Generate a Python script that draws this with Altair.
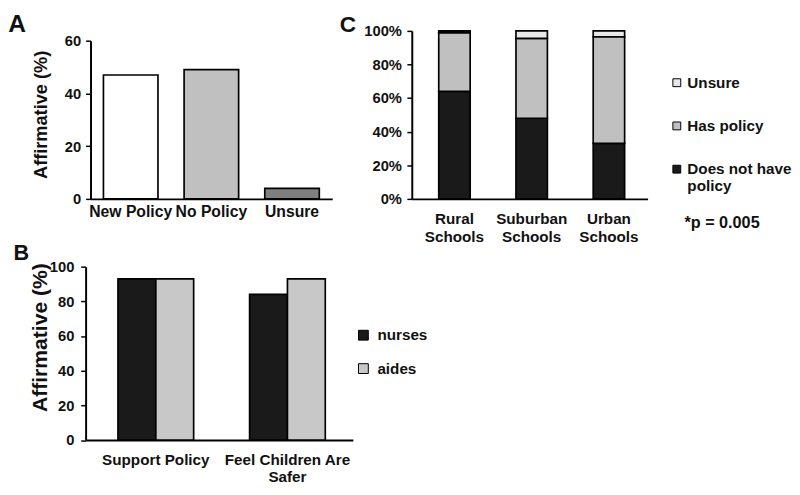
import altair as alt
import pandas as pd

FONT = "Liberation Sans"
INK = "#111111"

# Panel A
a_categories = ["New Policy", "No Policy", "Unsure"]
a_values = [47, 49, 4]
a_colors = ["#ffffff", "#c0c0c0", "#7f7f7f"]

# Panel B
b_categories = ["Support Policy", "Feel Children Are Safer"]
b_groups = ["nurses", "aides"]
b_nurses = [93, 84]
b_aides = [93, 93]
b_colors = ["#1a1a1a", "#c8c8c8"]

# Panel C
c_schools = ["Rural Schools", "Suburban Schools", "Urban Schools"]
c_series = ["Unsure", "Has policy", "Does not have policy"]
c_unsure = [1, 4.5, 3.5]
c_has = [35, 47.5, 63.5]
c_not = [64, 48, 33]
c_colors = ["#e8e8e8", "#c0c0c0", "#1a1a1a"]
c_note = "*p = 0.005"

# ---------- A ----------
dfa = pd.DataFrame({"cat": a_categories, "val": a_values})
a_bars = alt.Chart(dfa).mark_bar(stroke="black", strokeWidth=1.7).encode(
    x=alt.X("cat:N", sort=a_categories,
            scale=alt.Scale(paddingInner=0.324, paddingOuter=0.16),
            axis=alt.Axis(title=None, labelAngle=0, ticks=False, tickSize=0,
                          labelFontSize=16, labelPadding=5)),
    y=alt.Y("val:Q", scale=alt.Scale(domain=[0, 60], range=[171, 10], nice=False),
            axis=alt.Axis(values=[0, 20, 40, 60], labelPadding=5,
                          title="Affirmative (%)", titleFontSize=18.5,
                          titleX=-50.5, titleY=85, titleAngle=270,
                          titleAlign="center", titleBaseline="middle")),
    color=alt.Color("cat:N", scale=alt.Scale(domain=a_categories, range=a_colors), legend=None),
)
a_letter = alt.Chart(pd.DataFrame({"t": ["A"]})).mark_text(
    fontSize=25, fontWeight="bold", font=FONT, color=INK, align="left", baseline="alphabetic"
).encode(text="t:N", x=alt.value(-83.7), y=alt.value(1.5))
A = alt.layer(a_bars, a_letter).properties(width=246, height=171)

# ---------- C ----------
rows = []
for s, u, h, n in zip(c_schools, c_unsure, c_has, c_not):
    rows.append({"school": s, "series": "Does not have policy", "val": n, "ord": 0})
    rows.append({"school": s, "series": "Has policy", "val": h, "ord": 1})
    rows.append({"school": s, "series": "Unsure", "val": u, "ord": 2})
dfc = pd.DataFrame(rows)
c_bars = alt.Chart(dfc).mark_bar(stroke="black", strokeWidth=1.7).encode(
    x=alt.X("school:N", sort=c_schools,
            scale=alt.Scale(paddingInner=0.593, paddingOuter=0.323, align=0.54),
            axis=alt.Axis(title=None, labelAngle=0, ticks=False, tickSize=0,
                          labelFontSize=15.5, labelPadding=13, labelLineHeight=18,
                          labelExpr="split(datum.label, ' ')")),
    y=alt.Y("val:Q", stack="zero", scale=alt.Scale(domain=[0, 100], nice=False),
            axis=alt.Axis(values=[0, 20, 40, 60, 80, 100], labelPadding=5.5,
                          labelExpr="datum.value + '%'", title=None)),
    color=alt.Color("series:N", scale=alt.Scale(domain=c_series, range=c_colors),
                    legend=alt.Legend(title=None, orient="none", legendX=262, legendY=45,
                                      symbolType="square", symbolSize=64,
                                      symbolStrokeColor="black", symbolStrokeWidth=1,
                                      labelFontSize=15.5, labelFont=FONT, labelFontWeight="bold",
                                      labelColor=INK, rowPadding=27, labelOffset=3, padding=0,
                                      labelExpr="datum.label == 'Does not have policy' ? ['Does not have', 'policy'] : datum.label")),
    order=alt.Order("ord:Q", sort="ascending"),
)
c_letter = alt.Chart(pd.DataFrame({"t": ["C"]})).mark_text(
    fontSize=23, fontWeight="bold", font=FONT, color=INK, align="left", baseline="alphabetic"
).encode(text="t:N", x=alt.value(-73.3), y=alt.value(1.5))
c_text = alt.Chart(pd.DataFrame({"t": [c_note]})).mark_text(
    fontSize=16.5, fontWeight="bold", font=FONT, color=INK, align="left", baseline="middle"
).encode(text="t:N", x=alt.value(277.5), y=alt.value(195.5))
C = alt.layer(c_bars, c_letter, c_text).properties(width=240, height=171)

# ---------- B ----------
dfb = pd.DataFrame({
    "cat": b_categories * 2,
    "grp": ["nurses"] * 2 + ["aides"] * 2,
    "val": b_nurses + b_aides,
})
b_bars = alt.Chart(dfb).mark_bar(stroke="black", strokeWidth=1.7).encode(
    x=alt.X("cat:N", sort=b_categories,
            scale=alt.Scale(range=[-5, 267], paddingInner=0.425, paddingOuter=0.2276, align=0.54),
            axis=alt.Axis(title=None, labelAngle=0, ticks=False, tickSize=0,
                          labelFontSize=15.5, labelPadding=13, labelLineHeight=17,
                          labelExpr="datum.label == 'Feel Children Are Safer' ? ['Feel Children Are', 'Safer'] : datum.label")),
    xOffset=alt.XOffset("grp:N", sort=b_groups),
    y=alt.Y("val:Q", scale=alt.Scale(domain=[0, 100], nice=False),
            axis=alt.Axis(values=[0, 20, 40, 60, 80, 100], labelPadding=7, offset=5,
                          title="Affirmative (%)", titleFontSize=21.5,
                          titleX=-45.5, titleY=71.7, titleAngle=270,
                          titleAlign="center", titleBaseline="middle")),
    color=alt.Color("grp:N", scale=alt.Scale(domain=b_groups, range=b_colors),
                    legend=alt.Legend(title=None, orient="none", legendX=270, legendY=62,
                                      symbolType="square", symbolSize=100,
                                      symbolStrokeColor="black", symbolStrokeWidth=1,
                                      labelFontSize=15.5, labelFont=FONT, labelFontWeight="bold",
                                      labelColor=INK, rowPadding=17, labelOffset=6.5, padding=0)),
)
b_letter = alt.Chart(pd.DataFrame({"t": ["B"]})).mark_text(
    fontSize=22, fontWeight="bold", font=FONT, color=INK, align="left", baseline="alphabetic"
).encode(text="t:N", x=alt.value(-78.5), y=alt.value(-6.3))
B = alt.layer(b_bars, b_letter).properties(width=267, height=176.5)

chart = alt.concat(
    A, C, B, columns=2, spacing={"row": 69, "column": 60}, bounds="flush", align="each"
).resolve_scale(color="independent").resolve_legend(color="independent").properties(
    padding=0, background="white"
).configure_view(stroke=None).configure_axis(
    grid=False, domainColor="black", domainWidth=2, tickColor="black", tickWidth=1.5,
    labelFont=FONT, labelFontWeight="bold", labelColor=INK, labelFontSize=15,
    titleFont=FONT, titleFontWeight="bold", titleColor=INK,
).configure_axisY(tickSize=5)

chart.save("out.html", embed_options={"renderer": "svg", "actions": False})
